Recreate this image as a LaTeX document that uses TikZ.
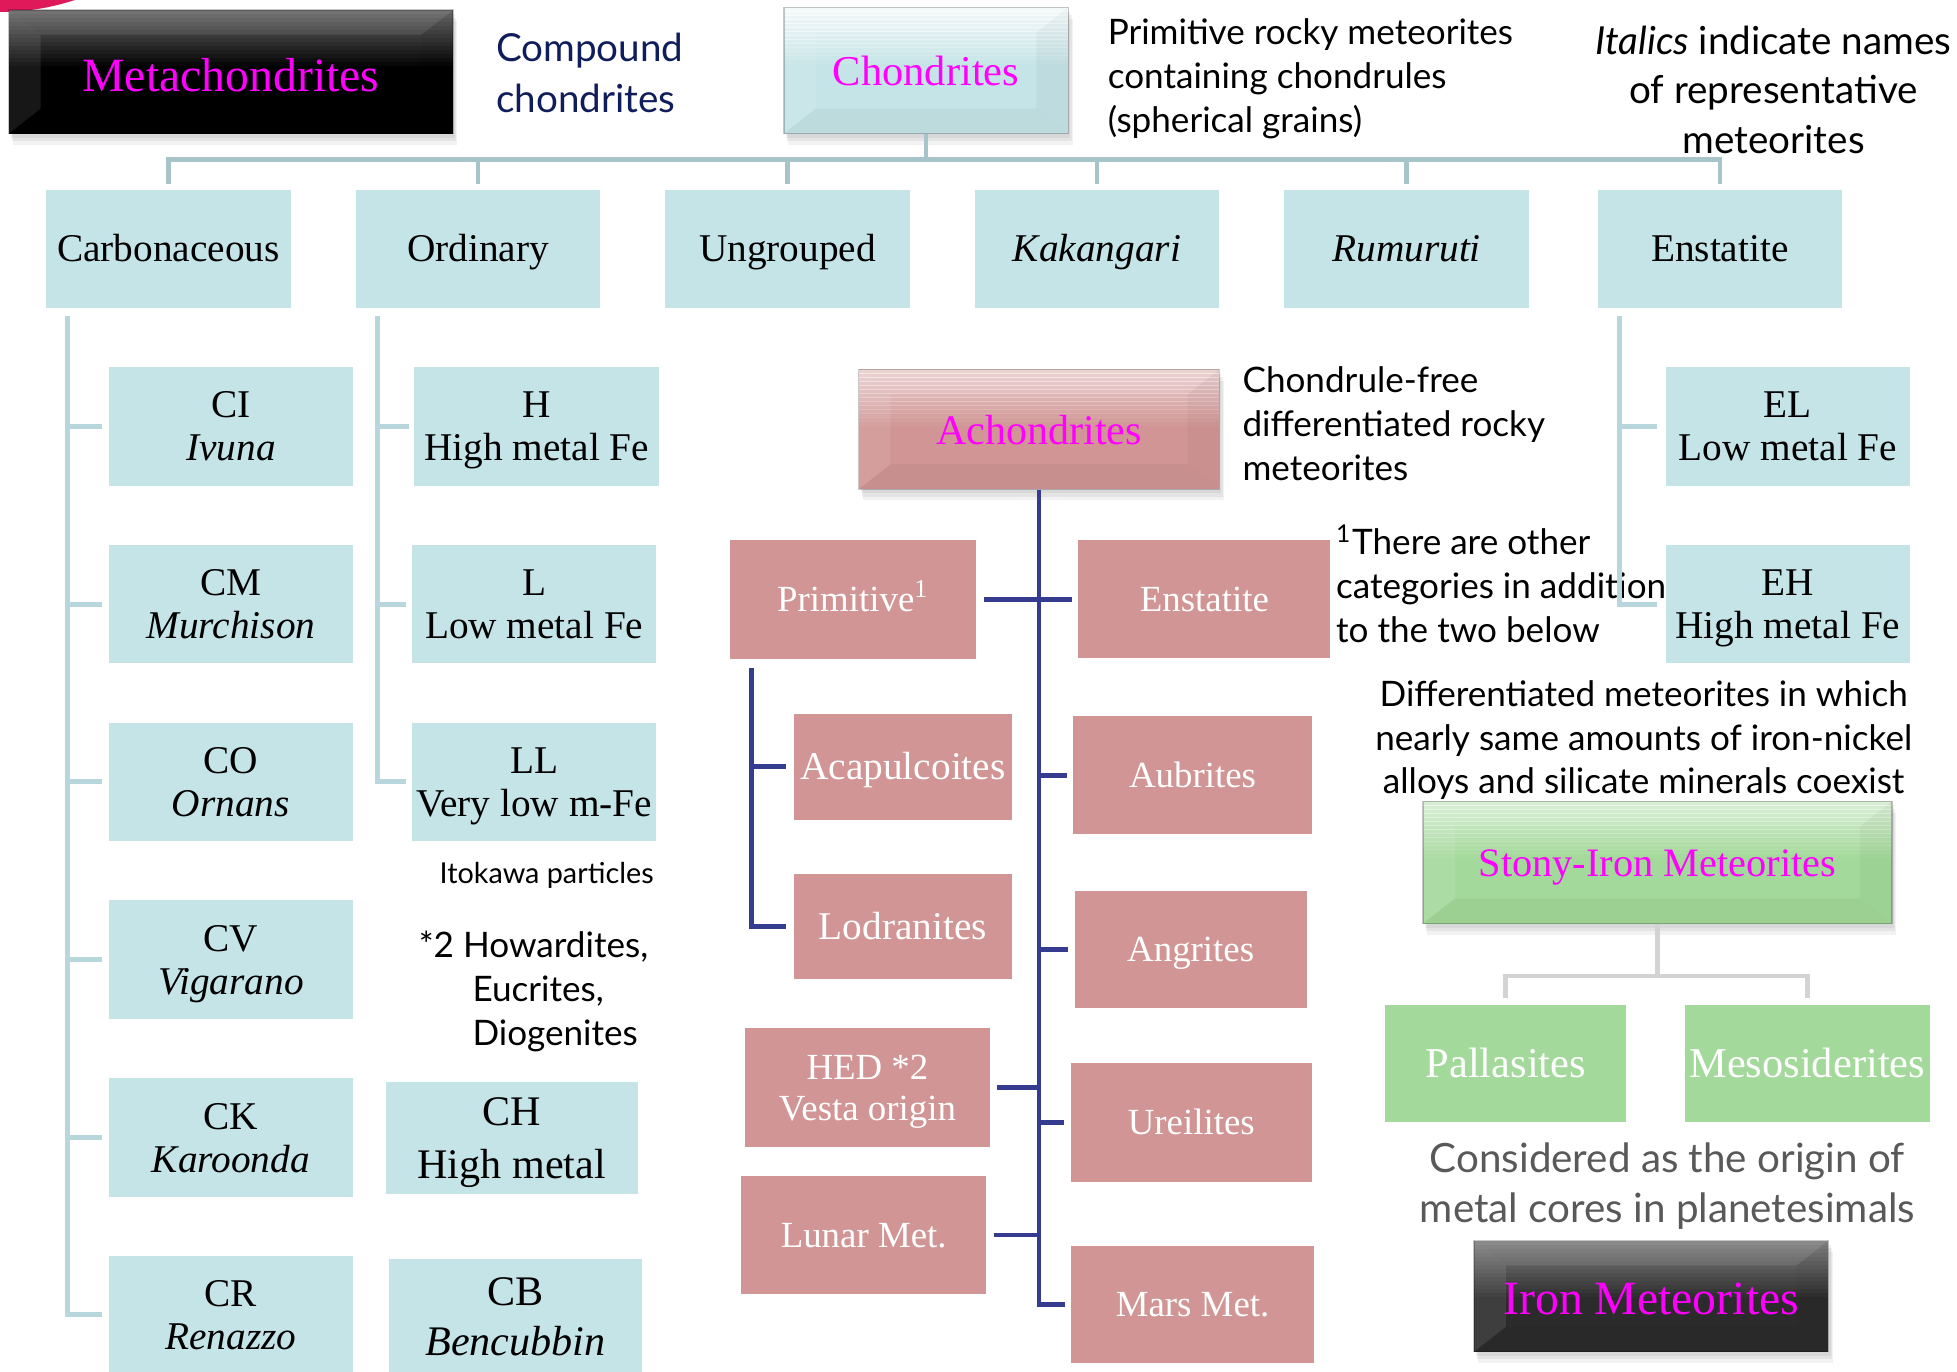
\documentclass[tikz,border=0pt]{standalone}
\usepackage{fontspec}
\setmainfont{Liberation Serif}
\newfontfamily\gill{Lato}
\usetikzlibrary{shadows}
\definecolor{cyanbox}{HTML}{C5E4E7}
\definecolor{pinkbox}{HTML}{D09594}
\definecolor{greenbox}{HTML}{A3D99A}
\definecolor{ironbox}{HTML}{2B2B2B}
\definecolor{magtext}{HTML}{FF00FF}
\definecolor{navytext}{HTML}{0F1D5A}
\definecolor{ctreec}{HTML}{A6C4C9}
\definecolor{streec}{HTML}{B8D7DC}
\definecolor{atreec}{HTML}{353B8E}
\definecolor{itreec}{HTML}{D3D3D3}
\definecolor{crimsonc}{HTML}{E0195A}
\definecolor{graytext}{HTML}{595959}
\newcommand\lastline[1]{\smash{#1}}
\newcommand\hdtext[2]{\raisebox{-#1}[0.66em][0pt]{#2}}
\tikzset{
  sz/.style 2 args={minimum width=#1*0.0125cm, minimum height=#2*0.0125cm},
  boxbase/.style={inner sep=0pt, align=center},
  cbox/.style={boxbase, fill=cyanbox, font=\fontsize{11.2}{12.3}\selectfont},
  pbox/.style={boxbase, fill=pinkbox, text=white, font=\fontsize{10.5}{11.7}\selectfont},
  gbox/.style={boxbase, fill=greenbox, text=white, font=\fontsize{12.1}{14}\selectfont, text height=8pt, text depth=0pt},
  one/.style={text height=#1, text depth=0pt},
  one/.default=7.4pt,
  headbox/.style={boxbase, text=magtext, draw=black, draw opacity=0.22, line width=0.4pt,
    drop shadow={opacity=.12, shadow xshift=0.6pt, shadow yshift=-1.2pt, draw=none},
    drop shadow={opacity=.12, shadow xshift=0.9pt, shadow yshift=-2.2pt, draw=none},
    drop shadow={opacity=.10, shadow xshift=1.2pt, shadow yshift=-3.2pt, draw=none}},
  bevel/.style 2 args={fill=#1, path picture={
    \def\pb{path picture bounding box}
    \foreach \i in {0,...,13}{
      \pgfmathsetmacro\opq{#2/100*(1-\i/14)}
      \pgfmathsetmacro\ya{-\i*0.04}
      \pgfmathsetmacro\yb{-(\i+1)*0.04-0.005}
      \fill[white, opacity=\opq] ([yshift=\ya cm]\pb.north west) rectangle ([yshift=\yb cm]\pb.north east);
    }
    \fill[white, opacity=0.08] (\pb.north west) -- (\pb.north east) -- ([xshift=-0.32cm,yshift=-0.25cm]\pb.north east) -- ([xshift=0.32cm,yshift=-0.25cm]\pb.north west) -- cycle;
    \fill[white, opacity=0.09] (\pb.north west) -- ([xshift=0.32cm,yshift=-0.25cm]\pb.north west) -- ([xshift=0.32cm,yshift=0.25cm]\pb.south west) -- (\pb.south west) -- cycle;
    \fill[black, opacity=0.03] (\pb.north east) -- ([xshift=-0.32cm,yshift=-0.25cm]\pb.north east) -- ([xshift=-0.32cm,yshift=0.25cm]\pb.south east) -- (\pb.south east) -- cycle;
    \fill[black, opacity=0.04] (\pb.south west) -- ([xshift=0.32cm,yshift=0.25cm]\pb.south west) -- ([xshift=-0.32cm,yshift=0.25cm]\pb.south east) -- (\pb.south east) -- cycle;
  }},
  ctree/.style={draw=ctreec, line width=1.3pt},
  stree/.style={draw=streec, line width=1.4pt},
  atree/.style={draw=atreec, line width=1.4pt},
  itree/.style={draw=itreec, line width=1.4pt},
  anno/.style={inner sep=0pt, font=\gill\fontsize{10}{12.45}\selectfont},
}
\begin{document}
\begin{tikzpicture}[x=0.0125cm, y=-0.0125cm]
\useasboundingbox (0,0) rectangle (1568,1099);
\begin{scope}
  \clip (0,0) rectangle (1568,1099);
  \fill[crimsonc] (0,-182.5) circle (2.4cm);
\end{scope}

% top headers
\node[headbox, bevel={black}{40}, sz={356}{99}, font=\fontsize{13.6}{15}\selectfont] (meta) at (185,57.5) {\hdtext{1.1pt}{Metachondrites}};
\node[headbox, bevel={cyanbox}{80}, sz={228}{101}, font=\fontsize{12.1}{14}\selectfont] (chon) at (742,56.5) {\hdtext{0.3pt}{Chondrites}};

\node[anno, anchor=west, align=left, text=navytext, font=\gill\fontsize{11}{14.6}\selectfont] (comp) at (397,58.5) {Compound\\chondrites};
\node[anno, anchor=west, align=left] (primdesc) at (887,63) {Primitive rocky meteorites\\containing chondrules\\(spherical grains)};
\node[anno, align=center, font=\gill\fontsize{11}{14.2}\selectfont] (ital) at (1421,72) {\textit{Italics} indicate names\\of representative\\meteorites};

% chondrite groups
\node[cbox, one, sz={196}{95}] (carb) at (135,199.5) {Carbonaceous};
\node[cbox, one, sz={196}{95}] (ord) at (383,199.5) {Ordinary};
\node[cbox, one, sz={196}{95}] (ungr) at (631,199.5) {Ungrouped};
\node[cbox, one, sz={196}{95}] (kak) at (879,199.5) {\textit{Kakangari}};
\node[cbox, one, sz={196}{95}] (rum) at (1127,199.5) {\textit{Rumuruti}};
\node[cbox, one, sz={196}{95}] (ens) at (1378,199.5) {Enstatite};

% carbonaceous subgroups
\node[cbox, sz={196}{95}] (ci) at (185,341.5) {CI\\\lastline{\textit{Ivuna}}};
\node[cbox, sz={196}{95}] (cm) at (185,484) {CM\\\lastline{\textit{Murchison}}};
\node[cbox, sz={196}{95}] (co) at (185,626.5) {CO\\\lastline{\textit{Ornans}}};
\node[cbox, sz={196}{95}] (cv) at (185,769) {CV\\\lastline{\textit{Vigarano}}};
\node[cbox, sz={196}{95}] (ck) at (185,911.5) {CK\\\lastline{\textit{Karoonda}}};
\node[cbox, sz={196}{95}] (cr) at (185,1053.5) {CR\\\lastline{\textit{Renazzo}}};

% ordinary subgroups
\node[cbox, sz={196}{95}] (h) at (430,341.5) {H\\\lastline{High metal Fe}};
\node[cbox, sz={196}{95}] (l) at (428,484) {L\\\lastline{Low metal Fe}};
\node[cbox, sz={196}{95}] (ll) at (428,626.5) {LL\\\lastline{Very low m-Fe}};
\node[anno, font=\gill\fontsize{8.2}{10}\selectfont] (itok) at (438,701) {Itokawa particles};
\node[anno, anchor=west, align=left] (how) at (335,794.5) {*2 Howardites,\\\hspace*{15.3pt}Eucrites,\\\hspace*{15.3pt}Diogenites};
\node[cbox, sz={202}{90}, font=\fontsize{12}{15}\selectfont] (ch) at (410,912) {CH\\\lastline{High metal}};
\node[cbox, sz={202}{92}, font=\fontsize{12}{14.2}\selectfont] (cb) at (413,1055) {CB\\\lastline{\textit{Bencubbin}}};

% enstatite subgroups
\node[cbox, sz={195}{95}] (el) at (1432.5,341.5) {EL\\\lastline{Low metal Fe}};
\node[cbox, sz={195}{95}] (eh) at (1432.5,484) {EH\\\lastline{High metal Fe}};

% achondrites
\node[headbox, bevel={pinkbox}{55}, sz={289}{96}, font=\fontsize{12}{14}\selectfont] (ach) at (832.5,344) {\hdtext{0.3pt}{Achondrites}};
\node[anno, anchor=west, align=left] (chfree) at (995,339.5) {Chondrule-free\\differentiated rocky\\meteorites};
\node[anno, anchor=west, align=left] (other) at (1070,467.5) {\textsuperscript{1}There are other\\categories in addition\\to the two below};

\node[pbox, one=6.9pt, sz={197}{95}] (prim) at (683.5,480.5) {Primitive\textsuperscript{1}};
\node[pbox, one=6.9pt, sz={202}{94}] (aens) at (965,480) {Enstatite};
\node[pbox, one, sz={175}{85}, font=\fontsize{11.2}{13}\selectfont] (acap) at (723.5,614.5) {Acapulcoites};
\node[pbox, one, sz={175}{84}, font=\fontsize{11.2}{13}\selectfont] (lodr) at (723.5,742) {Lodranites};
\node[pbox, one=6.9pt, sz={191}{94}] (aubr) at (955.5,621) {Aubrites};
\node[pbox, one=6.9pt, sz={186}{94}] (angr) at (954,761) {Angrites};
\node[pbox, sz={196}{95}] (hed) at (695,871.5) {HED *2\\\lastline{Vesta origin}};
\node[pbox, one=6.9pt, sz={193}{95}] (ureil) at (954.5,899.5) {Ureilites};
\node[pbox, one=6.9pt, sz={196}{95}] (lunar) at (692,989.5) {Lunar Met.};
\node[pbox, one=6.9pt, sz={195}{94}] (mars) at (955.5,1045) {Mars Met.};

% stony-iron and iron
\node[anno, align=center] (diff) at (1317,593) {Differentiated meteorites in which\\nearly same amounts of iron-nickel\\alloys and silicate minerals coexist};
\node[headbox, bevel={greenbox}{55}, sz={376}{98}, font=\fontsize{11.5}{14}\selectfont] (stony) at (1328,691) {\hdtext{0.1pt}{Stony-Iron Meteorites}};
\node[gbox, sz={193}{94}] (pall) at (1206.5,852) {Pallasites};
\node[gbox, sz={196}{94}] (meso) at (1448,852) {Mesosiderites};
\node[anno, align=center, text=graytext, font=\gill\fontsize{11.5}{14.2}\selectfont] (consid) at (1336,950) {Considered as the origin of\\metal cores in planetesimals};
\node[headbox, bevel={ironbox}{40}, sz={284}{89}, font=\fontsize{13.6}{15}\selectfont] (iron) at (1323,1038.5) {\hdtext{0.8pt}{Iron Meteorites}};

% connectors: chondrites
\coordinate (cbus) at (0,128);
\foreach \n in {carb,ord,ungr,kak,rum,ens}
  \draw[ctree] (chon.south) -- (chon.south |- cbus) -| ([yshift=0.05cm]\n.north);

\coordinate (ctr) at ([xshift=0.225cm,yshift=-0.075cm]carb.south west);
\draw[stree] (ctr) |- ([xshift=-0.0625cm]cr.west);
\foreach \n in {ci,cm,co,cv,ck}
  \draw[stree] (ctr |- \n.west) -- ([xshift=-0.0625cm]\n.west);

\coordinate (otr) at ([xshift=0.225cm,yshift=-0.075cm]ord.south west);
\draw[stree] (otr) |- ([xshift=-0.05cm]ll.west);
\foreach \n in {h,l}
  \draw[stree] (otr |- \n.west) -- ([xshift=-0.05cm]\n.west);

\coordinate (etr) at ([xshift=0.225cm,yshift=-0.075cm]ens.south west);
\draw[stree] (etr) |- ([xshift=-0.0875cm]eh.west);
\draw[stree] (etr |- el.west) -- ([xshift=-0.0875cm]el.west);

% connectors: achondrites
\draw[atree] (ach.south) |- ([xshift=-0.05cm]mars.west);
\foreach \n in {aens,aubr,angr,ureil}
  \draw[atree] (ach.south |- \n.west) -- ([xshift=-0.06cm]\n.west);
\foreach \n in {prim,hed,lunar}
  \draw[atree] ([xshift=0.07cm]\n.east) -- (ach.south |- \n.east);
\coordinate (ptr) at ([xshift=0.225cm,yshift=-0.0875cm]prim.south west);
\draw[atree] (ptr) |- ([xshift=-0.075cm]lodr.west);
\draw[atree] (ptr |- acap.west) -- ([xshift=-0.075cm]acap.west);

% connectors: stony-iron
\coordinate (sbus) at (0,782);
\foreach \n in {pall,meso}
  \draw[itree] (stony.south) -- (stony.south |- sbus) -| ([yshift=0.0625cm]\n.north);
\end{tikzpicture}
\end{document}
